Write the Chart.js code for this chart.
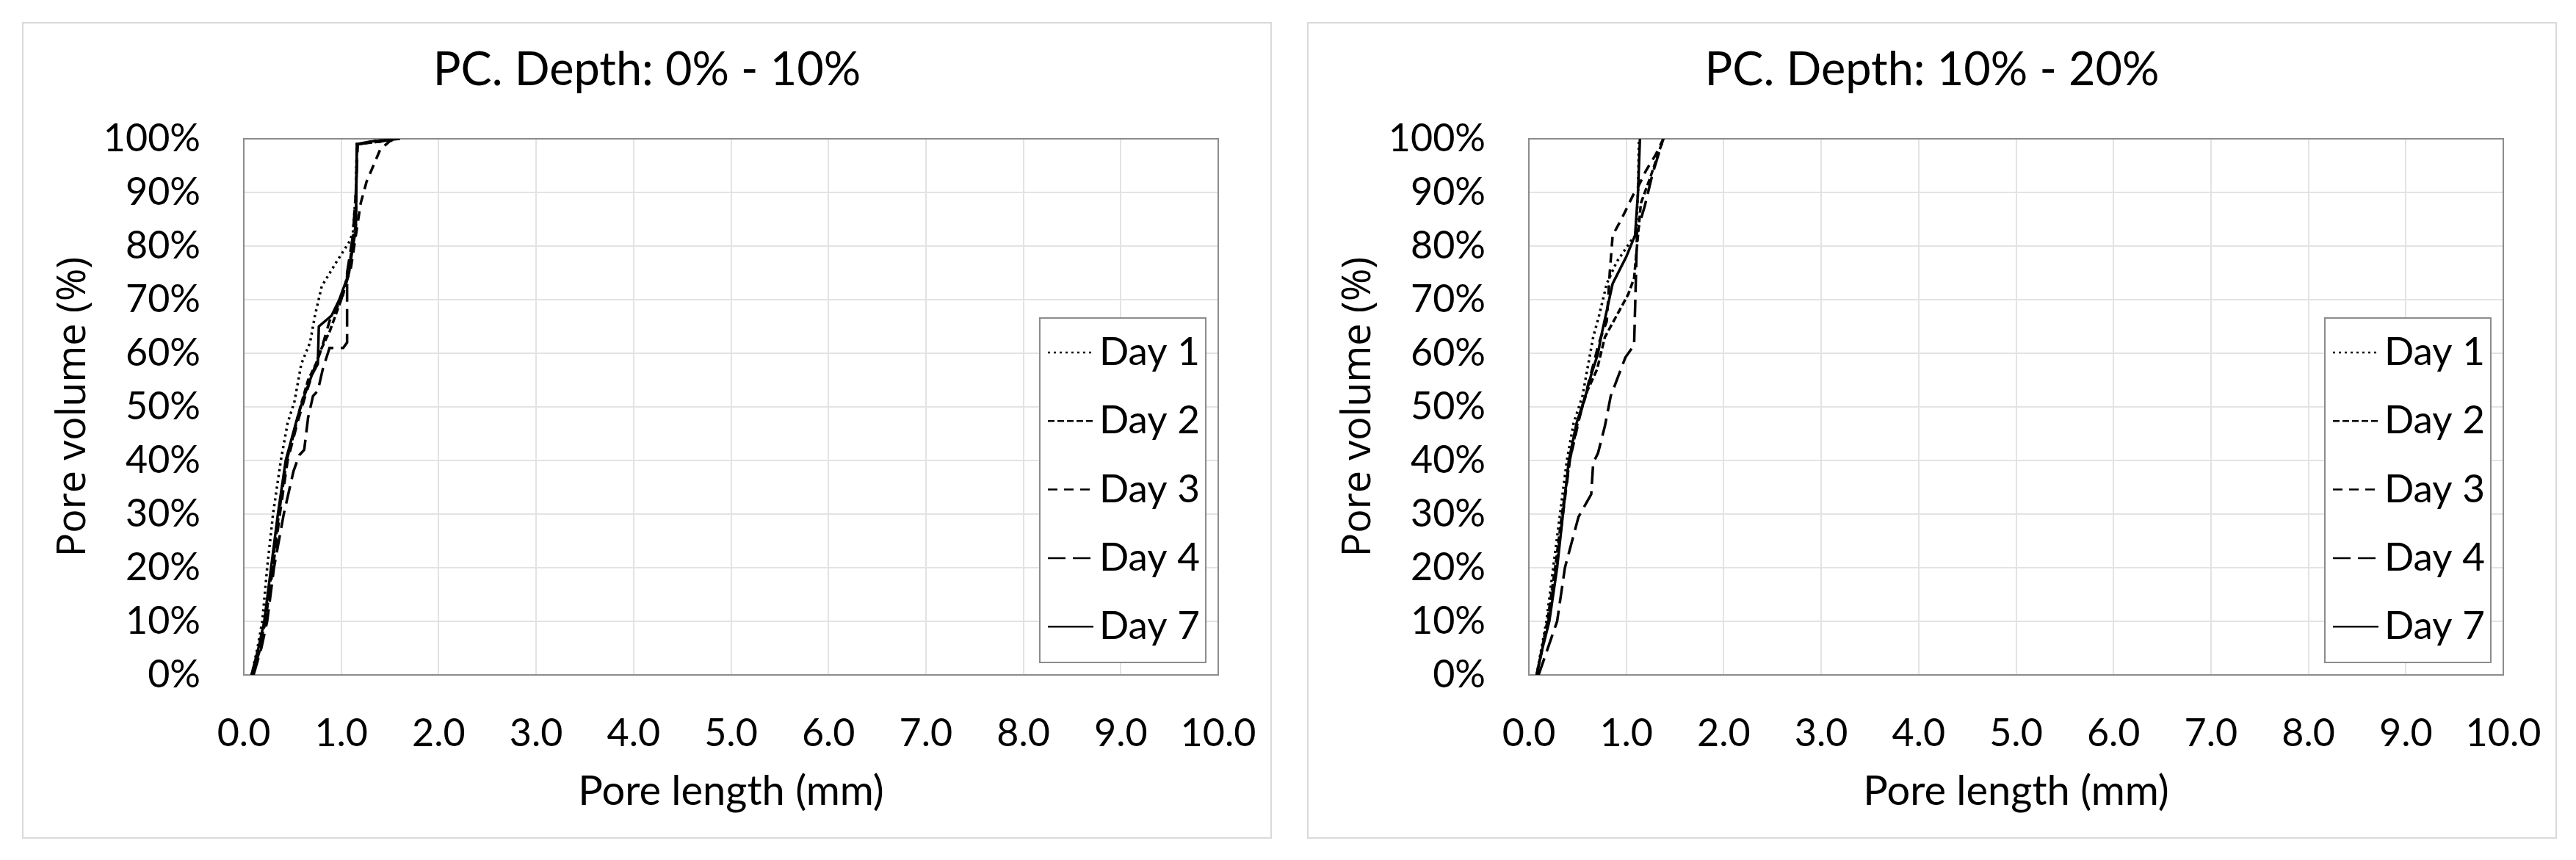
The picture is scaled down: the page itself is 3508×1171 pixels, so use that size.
<!DOCTYPE html>
<html>
<head>
<meta charset="utf-8">
<title>PC pore length distribution</title>
<script src="https://cdn.jsdelivr.net/npm/chart.js@4.4.1/dist/chart.umd.min.js"></script>
<style>
  body { margin: 0; background: #fff; width: 3508px; height: 1171px; position: relative; overflow: hidden; }
  .panel { position: absolute; top: 30px; width: 1698px; height: 1108px; border: 2px solid #d9d9d9; }
  #p1 { left: 30px; }
  #p2 { left: 1780px; }
</style>
</head>
<body>
<div class="panel" id="p1"><canvas id="chart1" width="1698" height="1108"></canvas></div>
<div class="panel" id="p2"><canvas id="chart2" width="1698" height="1108"></canvas></div>
<script>
const seriesNames = ['Day 1', 'Day 2', 'Day 3', 'Day 4', 'Day 7'];
const chartTitles = ['PC. Depth: 0% - 10%', 'PC. Depth: 10% - 20%'];
const xTitle = 'Pore length (mm)';
const yTitle = 'Pore volume (%)';

// depth 0% - 10%  : [pore length (mm), cumulative pore volume (%)]
const top_day1 = [[0.08,0],[0.14,5],[0.19,10],[0.24,20],[0.30,30],[0.38,40],[0.45,47],[0.52,51],[0.59,58],[0.68,62],[0.73,67],[0.80,72.5],[0.95,77],[1.08,80.7],[1.12,82.5],[1.15,90],[1.16,99],[1.35,99.6],[1.60,100]];
const top_day2 = [[0.08,0],[0.16,5],[0.22,10],[0.29,20],[0.36,30],[0.44,40],[0.50,44],[0.58,50],[0.66,55],[0.74,58],[0.80,61],[0.88,64],[0.94,67],[1.02,71],[1.08,76],[1.12,81],[1.15,84],[1.16,99],[1.40,99.5],[1.55,100]];
const top_day3 = [[0.09,0],[0.17,5],[0.22,10],[0.30,20],[0.37,30],[0.45,40],[0.55,47],[0.63,52],[0.72,57],[0.80,61],[0.88,66],[1.00,70],[1.10,76],[1.15,82],[1.20,88],[1.26,92],[1.33,95],[1.40,98],[1.50,99.6],[1.60,100]];
const top_day4 = [[0.10,0],[0.18,5],[0.24,10],[0.31,20],[0.41,30],[0.51,38],[0.57,41],[0.62,42],[0.66,48],[0.71,52],[0.76,53],[0.81,57],[0.88,61],[1.02,61],[1.06,62],[1.06,75],[1.12,82],[1.15,90],[1.17,99],[1.40,99.5],[1.55,100]];
const top_day7 = [[0.08,0],[0.15,5],[0.21,10],[0.28,20],[0.35,30],[0.43,40],[0.55,48],[0.62,52],[0.70,56],[0.76,58],[0.77,65],[0.90,67],[0.98,70],[1.08,75],[1.12,80],[1.15,83],[1.16,99],[1.30,99.5],[1.60,100]];

// depth 10% - 20%
const mid_day1 = [[0.08,0],[0.18,10],[0.25,20],[0.32,30],[0.39,40],[0.46,47],[0.55,52],[0.60,57],[0.66,63],[0.72,67],[0.80,73],[0.90,77],[1.05,81],[1.10,82],[1.12,90],[1.13,100]];
const mid_day2 = [[0.08,0],[0.19,10],[0.27,20],[0.34,30],[0.42,40],[0.50,47],[0.60,53],[0.70,57],[0.78,63],[0.90,67],[1.02,71],[1.08,74],[1.11,80],[1.15,88],[1.25,93],[1.38,100]];
const mid_day3 = [[0.08,0],[0.20,10],[0.28,20],[0.35,30],[0.42,40],[0.52,48],[0.62,55],[0.72,62],[0.80,66],[0.83,75],[0.86,82],[0.95,85],[1.07,89.5],[1.12,91],[1.20,94],[1.30,97],[1.38,100]];
const mid_day4 = [[0.10,0],[0.29,10],[0.37,20],[0.51,29.5],[0.64,33.7],[0.66,39.5],[0.71,41.4],[0.78,46.4],[0.84,52],[0.99,59.2],[1.08,61.5],[1.10,75],[1.11,82.5],[1.19,87.5],[1.27,93.5],[1.38,100]];
const mid_day7 = [[0.08,0],[0.14,5],[0.21,10],[0.29,20],[0.35,30],[0.41,40],[0.49,47],[0.58,52],[0.64,56],[0.71,60],[0.74,63],[0.80,68],[0.86,73],[1.00,78],[1.09,82],[1.12,90],[1.14,100]];

// line style for each day
const dashes = [[3, 5], [9, 4], [13, 9], [24, 10], []];

Chart.defaults.font.family = 'Lato';
Chart.defaults.color = '#000';

// title centred on the whole panel (the built-in one centres on the padded box)
const panelTitle = {
  id: 'panelTitle',
  afterDraw(chart, args, opts) {
    const { ctx } = chart;
    ctx.save();
    ctx.font = '63px Lato';
    ctx.fillStyle = '#000';
    ctx.textAlign = 'center';
    ctx.textBaseline = 'middle';
    ctx.fillText(opts.text, chart.width / 2, 64);
    ctx.restore();
  }
};

// legend box sitting inside the plot, bottom-right like the excel one
const boxLegend = {
  id: 'boxLegend',
  afterDraw(chart) {
    const { ctx, chartArea: a } = chart;
    const w = 226, h = 469;
    const x0 = a.right - 17 - w, y0 = a.bottom - 17 - h;
    ctx.save();
    ctx.fillStyle = '#fff';
    ctx.fillRect(x0, y0, w, h);
    ctx.strokeStyle = '#8c8c8c';
    ctx.lineWidth = 2;
    ctx.strokeRect(x0, y0, w, h);
    ctx.font = '53px Lato';
    ctx.textBaseline = 'middle';
    ctx.fillStyle = '#000';
    chart.data.datasets.forEach((ds, i) => {
      const y = y0 + 47 + i * 93.3;
      ctx.setLineDash(ds.borderDash);
      ctx.lineWidth = 2.5;
      ctx.strokeStyle = '#000';
      ctx.beginPath();
      ctx.moveTo(x0 + 11, y);
      ctx.lineTo(x0 + 73, y);
      ctx.stroke();
      ctx.setLineDash([]);
      ctx.fillText(ds.label, x0 + 81, y);
    });
    ctx.restore();
  }
};

// grey frame round the plot area
const plotFrame = {
  id: 'plotFrame',
  beforeDatasetsDraw(chart) {
    const { ctx, chartArea: a } = chart;
    ctx.save();
    ctx.strokeStyle = '#8c8c8c';
    ctx.lineWidth = 2;
    ctx.strokeRect(a.left, a.top, a.right - a.left, a.bottom - a.top);
    ctx.restore();
  }
};

function makeChart(id, title, series) {
  const datasets = series.map((pts, i) => ({
    label: seriesNames[i],
    data: pts.map(p => ({ x: p[0], y: p[1] })),
    borderColor: '#000',
    borderWidth: 3.5,
    borderDash: dashes[i],
    pointRadius: 0,
    fill: false,
    tension: 0
  }));

  new Chart(document.getElementById(id).getContext('2d'), {
    type: 'line',
    data: { datasets },
    options: {
      responsive: false,
      animation: false,
      devicePixelRatio: 1,
      layout: { padding: { top: 157, right: 71, bottom: 0, left: 0 } },
      plugins: {
        legend: { display: false },
        tooltip: { enabled: false },
        title: { display: false },
        panelTitle: { text: title }
      },
      scales: {
        x: {
          type: 'linear',
          min: 0,
          max: 10,
          afterFit(scale) {
            scale.height = 221;
            // tick padding is vertical here, don't let it eat the right margin
            scale.paddingLeft = 0;
            scale.paddingRight = 0;
          },
          ticks: {
            stepSize: 1,
            maxRotation: 0,
            autoSkip: false,
            padding: 49,
            font: { size: 52 },
            callback: v => v.toFixed(1)
          },
          grid: { color: '#e3e3e3', lineWidth: 2, drawTicks: false },
          border: { display: false },
          title: {
            display: true,
            text: xTitle,
            font: { size: 56 },
            padding: { top: 0, bottom: 28 }
          }
        },
        y: {
          min: 0,
          max: 100,
          afterFit(scale) { scale.width = 300; },
          ticks: {
            stepSize: 10,
            padding: 59,
            font: { size: 52 },
            callback: v => v + '%'
          },
          grid: { color: '#e3e3e3', lineWidth: 2, drawTicks: false },
          border: { display: false },
          title: {
            display: true,
            text: yTitle,
            font: { family: 'Open Sans', size: 54 },
            padding: { top: 36, bottom: 0 }
          }
        }
      }
    },
    plugins: [plotFrame, boxLegend, panelTitle]
  });
}

makeChart('chart1', chartTitles[0], [top_day1, top_day2, top_day3, top_day4, top_day7]);
makeChart('chart2', chartTitles[1], [mid_day1, mid_day2, mid_day3, mid_day4, mid_day7]);
</script>
</body>
</html>
